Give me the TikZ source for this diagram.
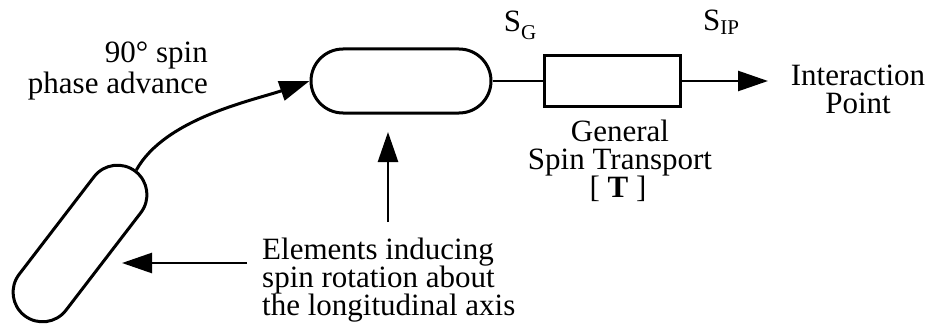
\documentclass[tikz,border=0pt]{standalone}
\usepackage{fontspec}
\setmainfont{Liberation Serif}
\usetikzlibrary{arrows.meta,shapes.misc}
\begin{document}
\begin{tikzpicture}[x=1pt,y=-1pt,
  lbl/.style={font=\fontsize{31}{31}\selectfont, inner sep=0pt, anchor=base},
  lblw/.style={lbl, anchor=base west},
  lble/.style={lbl, anchor=base east},
  capsule/.style={draw, line width=3pt, rounded rectangle, inner sep=0pt},
  conn/.style={line width=2.5pt},
  tip/.style={-{Triangle[length=30pt,width=20pt]}}]
\useasboundingbox[fill=white] (0,0) rectangle (929,329);
% shapes
\node[capsule, minimum width=182pt, minimum height=59pt, rotate=52.5] (cap1) at (80,243.5) {};
\node[capsule, minimum width=180pt, minimum height=64pt] (cap2) at (401,81) {};
\node[draw, line width=3pt, minimum width=136pt, minimum height=51pt, inner sep=0pt] (box) at (612.5,81) {};
% connectors
\draw[conn, line width=3pt, tip] (cap1.east) .. controls (165,118) and (255,100) .. (cap2.west);
\draw[conn, line width=2pt] (cap2.east) -- (box.west);
\coordinate (ipend) at (768,81);
\draw[conn, tip] (box.east) -- (ipend);
\coordinate (vtail) at (388,222);
\coordinate (vtip) at (388,132);
\draw[conn, tip] (vtail) -- (vtip);
\coordinate (htail) at (247,263);
\coordinate (htip) at (122,263);
\draw[conn, tip] (htail) -- (htip);
% labels
\node[lble] (adv1) at (208,63) {90° spin};
\node[lble] (adv2) at (208,93) {phase advance};
\node[lbl] (sg) at (520,32) {S\raisebox{-8pt}{\fontsize{21}{21}\selectfont G}};
\node[lbl] (sip) at (721,31) {S\raisebox{-4pt}{\fontsize{21}{21}\selectfont IP}};
\node[lbl] (gen1) at (620,141) {General};
\node[lbl] (gen2) at (620,169) {Spin Transport};
\node[lbl] (gen3) at (618,197) {[ \textbf{T} ]};
\node[lbl] (ip1) at (858,85) {Interaction};
\node[lbl] (ip2) at (858,113) {Point};
\node[lblw] (el1) at (262,259) {Elements inducing};
\node[lblw] (el2) at (262,287) {spin rotation about};
\node[lblw] (el3) at (262,315) {the longitudinal axis};
\end{tikzpicture}
\end{document}
